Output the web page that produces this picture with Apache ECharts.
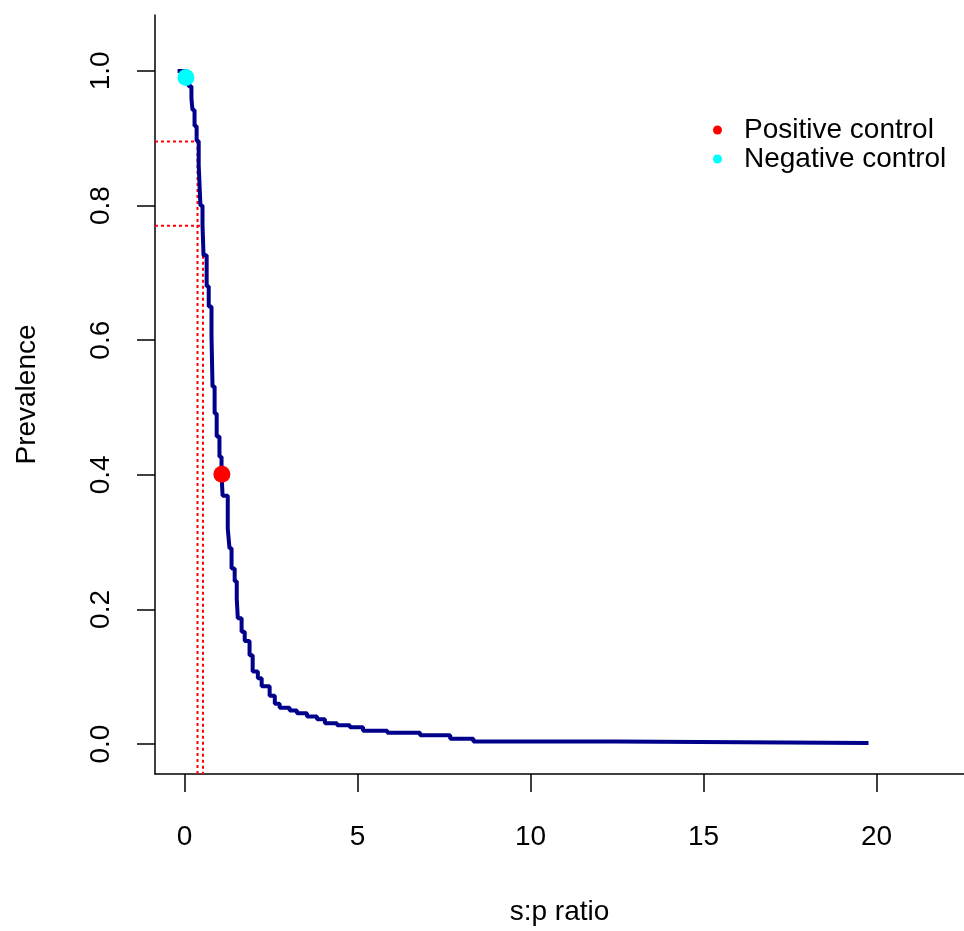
<!DOCTYPE html>
<html>
<head>
<meta charset="utf-8">
<script src="https://cdn.jsdelivr.net/npm/echarts@6/dist/echarts.min.js"></script>
<style>html,body{margin:0;padding:0;background:#fff}#c{width:964px;height:931px}</style>
</head>
<body>
<div id="c"></div>
<script>
// ---- data ----
const curveX = [-0.20, 0.05, 0.12, 0.20, 0.23, 0.29, 0.35, 0.41, 0.46, 0.52, 0.55, 0.64, 0.70, 0.78, 0.81, 0.87, 0.93, 1.01, 1.07, 1.10, 1.25, 1.30, 1.36, 1.45, 1.51, 1.54, 1.65, 1.74, 1.88, 1.97, 2.12, 2.23, 2.46, 2.61, 2.75, 3.04, 3.25, 3.54, 3.83, 4.06, 4.41, 4.78, 5.16, 5.86, 6.81, 7.68, 8.35, 12.46, 19.77];
const curveY = [1.000, 0.991, 0.977, 0.959, 0.942, 0.918, 0.896, 0.860, 0.800, 0.771, 0.726, 0.680, 0.650, 0.606, 0.531, 0.491, 0.457, 0.427, 0.402, 0.369, 0.320, 0.291, 0.261, 0.242, 0.216, 0.187, 0.167, 0.153, 0.132, 0.108, 0.098, 0.086, 0.072, 0.060, 0.054, 0.050, 0.046, 0.041, 0.037, 0.031, 0.028, 0.025, 0.020, 0.017, 0.013, 0.008, 0.004, 0.0015, 0.0015];
const positiveControl = [1.08, 0.401];
const negativeControl = [0.04, 0.990];
const cutoffX = [0.376, 0.535];
const cutoffY = [0.895, 0.770];
const xTicks = [0, 5, 10, 15, 20];
const yTicks = [0, 0.2, 0.4, 0.6, 0.8, 1.0];
const xMin = -0.853, xMax = 22.53;
const yMin = -0.0444, yMax = 1.083;

const FONT = 'Liberation Sans, Arial, sans-serif';
const chart = echarts.init(document.getElementById('c'), null, {renderer: 'canvas'});

const cutoffSeries = cutoffX.map((cx, i) => ({
  type: 'line',
  data: [[xMin, cutoffY[i]], [cx, cutoffY[i]], [cx, yMin]],
  symbol: 'none',
  lineStyle: {color: '#ff0000', width: 2, type: [3, 3]},
  silent: true,
  z: 1
}));

chart.setOption({
  animation: false,
  backgroundColor: '#ffffff',
  grid: {left: 155, top: 15, right: 0, bottom: 155, containLabel: false},
  xAxis: {
    type: 'value', min: xMin, max: xMax,
    name: 's:p ratio', nameLocation: 'middle', nameGap: 124,
    nameTextStyle: {fontSize: 28, fontFamily: FONT, color: '#000'},
    axisLine: {show: true, onZero: false, lineStyle: {color: '#000', width: 1.5}},
    axisTick: {show: true, inside: false, length: 18, customValues: xTicks, lineStyle: {color: '#000', width: 1.5}},
    axisLabel: {show: true, customValues: xTicks, margin: 49, fontSize: 28, fontFamily: FONT, color: '#000'},
    splitLine: {show: false}
  },
  yAxis: {
    type: 'value', min: yMin, max: yMax,
    name: 'Prevalence', nameLocation: 'middle', nameGap: 114, nameRotate: 90,
    nameTextStyle: {fontSize: 28, fontFamily: FONT, color: '#000'},
    axisLine: {show: true, onZero: false, lineStyle: {color: '#000', width: 1.5}},
    axisTick: {show: true, inside: false, length: 18, customValues: yTicks, lineStyle: {color: '#000', width: 1.5}},
    axisLabel: {show: true, customValues: yTicks, rotate: 90, margin: 40, fontSize: 28, fontFamily: FONT, color: '#000',
      formatter: v => v.toFixed(1)},
    splitLine: {show: false}
  },
  legend: {
    orient: 'vertical', left: 708, top: 111, itemGap: 1,
    itemWidth: 9, itemHeight: 9, icon: 'circle',
    textStyle: {fontSize: 28, fontFamily: FONT, color: '#000', padding: [0, 0, 0, 17]},
    data: ['Positive control', 'Negative control']
  },
  series: [
    ...cutoffSeries,
    {
      type: 'line', name: 'curve', step: 'end',
      data: curveX.map((x, i) => [x, curveY[i]]),
      symbol: 'none',
      lineStyle: {color: '#00008B', width: 4},
      z: 2
    },
    {
      type: 'scatter', name: 'Positive control',
      data: [positiveControl], symbol: 'circle', symbolSize: 17,
      itemStyle: {color: '#ff0000', opacity: 1}, z: 3
    },
    {
      type: 'scatter', name: 'Negative control',
      data: [negativeControl], symbol: 'circle', symbolSize: 17,
      itemStyle: {color: '#00ffff', opacity: 1}, z: 3
    }
  ]
});
</script>
</body>
</html>
